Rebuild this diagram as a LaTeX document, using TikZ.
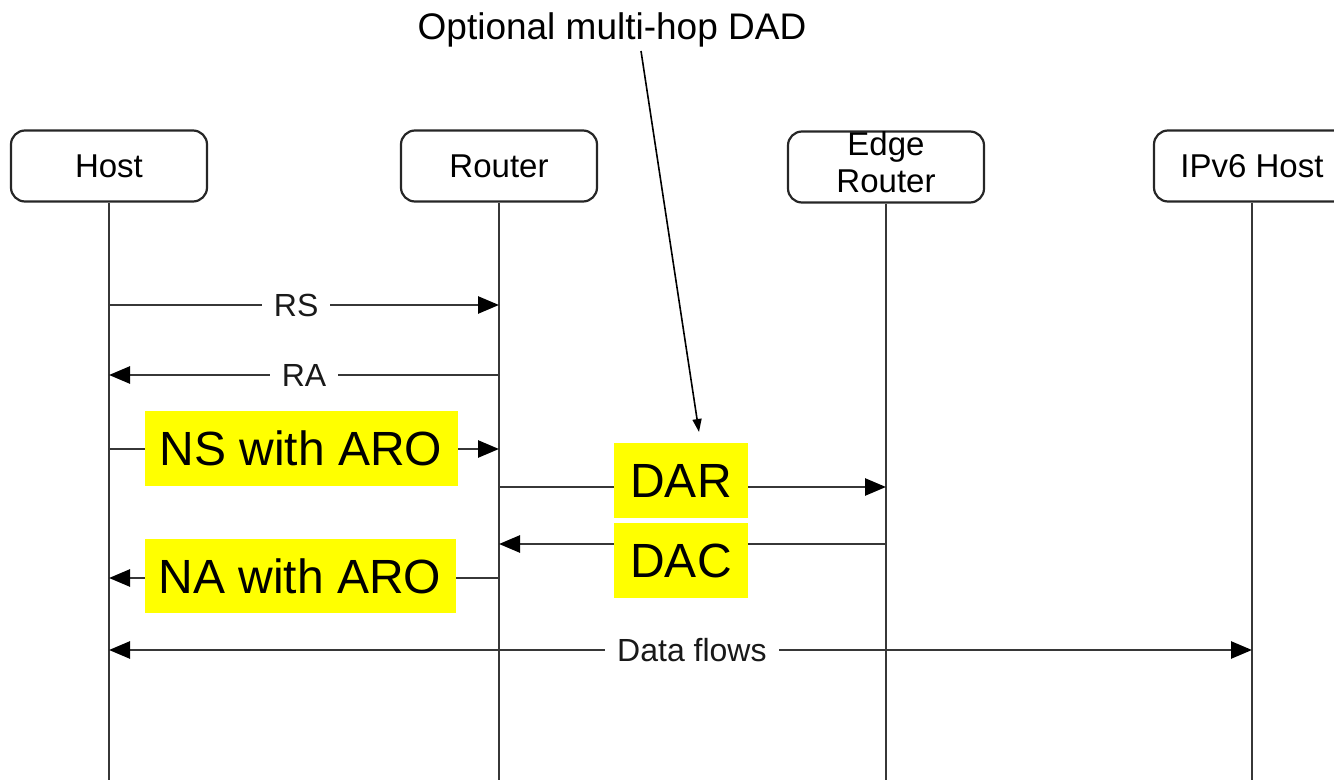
\documentclass[tikz,border=0pt]{standalone}
\usepackage{fontspec}
\setmainfont{Liberation Sans}
\usetikzlibrary{arrows.meta}

\definecolor{hiyellow}{RGB}{255,255,0}
\definecolor{linegray}{RGB}{55,55,55}

\tikzset{
  tip/.tip={Triangle[length=21pt,width=17pt,color=black]},
  actor/.style={draw=black!85, line width=2.2pt, rounded corners=14pt,
    minimum width=196pt, minimum height=71pt, inner sep=0pt,
    font=\fontsize{33}{37}\selectfont},
  lifeline/.style={draw=linegray, line width=2pt},
  msg/.style={draw=linegray, line width=2.6pt, -tip},
  dmsg/.style={draw=linegray, line width=2.6pt, tip-tip},
  msglabel/.style={fill=white, inner xsep=12pt, inner ysep=3pt,
    font=\fontsize{32}{37}\selectfont, text=black!90},
  hilabel/.style={fill=hiyellow, inner sep=0pt,
    font=\fontsize{48}{56}\selectfont},
  note/.style={font=\fontsize{37}{44}\selectfont},
  pointer/.style={draw=black, line width=1.6pt,
    -{Triangle[length=13pt,width=9pt]}},
}

\begin{document}
\begin{tikzpicture}[x=1pt, y=-1pt]
  \useasboundingbox (0,0) rectangle (1334,783);

  % participants
  \node[actor] (host)   at (109,166)  {Host};
  \node[actor] (router) at (499,166)  {Router};
  \node[actor] (edge)   at (886,167)  {};
  \node[font=\fontsize{33}{37}\selectfont, align=center, inner sep=0pt]
       (edgetext) at (886,162.5) {Edge\\Router};
  \node[actor] (ipv6)   at (1252,166) {IPv6 Host};

  % message rows and the bottom of the lifelines
  \coordinate (rowRS)   at (0,305);
  \coordinate (rowRA)   at (0,375);
  \coordinate (rowNS)   at (0,449);
  \coordinate (rowDAR)  at (0,487);
  \coordinate (rowDAC)  at (0,544);
  \coordinate (rowNA)   at (0,578);
  \coordinate (rowData) at (0,650);
  \coordinate (bottom)  at (0,780);

  % lifelines
  \draw[lifeline] (host.south)   -- (host |- bottom);
  \draw[lifeline] (router.south) -- (router |- bottom);
  \draw[lifeline] (edge.south)   -- (edge |- bottom);
  \draw[lifeline] (ipv6.south)   -- (ipv6 |- bottom);

  % router discovery
  \draw[msg] (host |- rowRS) -- (router |- rowRS)
    node[msglabel, pos=0.48] (rslabel) {RS};
  \draw[msg] (router |- rowRA) -- (host |- rowRA)
    node[msglabel, pos=0.5] (ralabel) {RA};

  % address registration
  \draw[msg] (host |- rowNS) -- (router |- rowNS);
  \draw[msg] (router |- rowDAR) -- (edge |- rowDAR);
  \draw[msg] (edge |- rowDAC) -- (router |- rowDAC);
  \draw[msg] (router |- rowNA) -- (host |- rowNA);

  \node[hilabel, minimum width=313pt, minimum height=75pt] (nslabel)
    at (301,448.5) {NS with ARO};
  \node[hilabel, minimum width=134pt, minimum height=75pt] (darlabel)
    at (681,480.5) {DAR};
  \node[hilabel, minimum width=134pt, minimum height=75pt] (daclabel)
    at (681,560.5) {DAC};
  \node[hilabel, minimum width=311pt, minimum height=74pt] (nalabel)
    at (300,576) {NA with ARO};

  % data exchange
  \draw[dmsg] (host |- rowData) -- (ipv6 |- rowData)
    node[msglabel, pos=0.51] (datalabel) {Data flows};

  % annotation
  \node[note, anchor=base] (dadnote) at (612,40) {Optional multi-hop DAD};
  \coordinate (dadtail) at (641,51);
  \coordinate (dadtip)  at (699,432);
  \draw[pointer] (dadtail) -- (dadtip);
\end{tikzpicture}
\end{document}
